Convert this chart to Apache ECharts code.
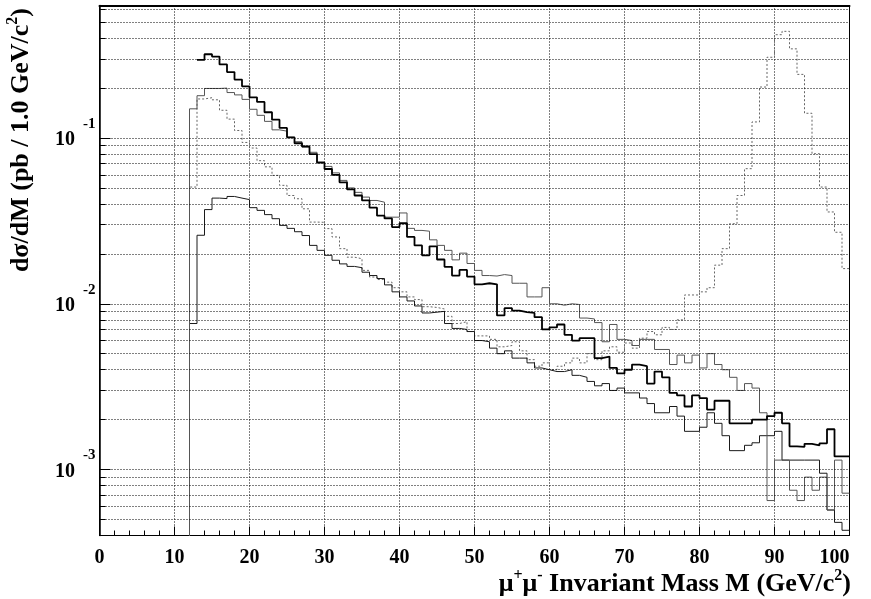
<!DOCTYPE html>
<html>
<head>
<meta charset="utf-8">
<script src="https://cdn.jsdelivr.net/npm/echarts@6/dist/echarts.min.js"></script>
<style>
  html, body { margin: 0; padding: 0; background: #fff; }
  #chart { width: 871px; height: 599px; }
</style>
</head>
<body>
<div id="chart"></div>
<script>
// dσ/dM of μ+μ- pairs in 1 GeV/c² bins; each array starts at its own first bin (GeV/c²)

// heavy solid histogram
const firstBinA = 13;
const valuesA = [
  0.296, 0.32, 0.31, 0.278, 0.25, 0.225, 0.205, 0.176, 0.165, 0.143,
  0.129, 0.115, 0.101, 0.093, 0.089, 0.080, 0.071, 0.065, 0.060, 0.054,
  0.049, 0.045, 0.042, 0.038, 0.034,
  0.0327, 0.029, 0.0306, 0.0253, 0.0225, 0.0196, 0.0222, 0.0185, 0.0167, 0.0148,
  0.0160, 0.0146, 0.0131, 0.0133, 0.0131, 0.0085, 0.0094, 0.0091, 0.0089, 0.0088,
  0.0083, 0.0070,
  0.0072, 0.0075, 0.0065, 0.0060, 0.0062, 0.0062, 0.0047, 0.0048, 0.0041, 0.0038,
  0.0040, 0.0043, 0.0042, 0.0033, 0.0039, 0.0036, 0.0029, 0.0028, 0.0024, 0.0028,
  0.0027, 0.0023, 0.0026, 0.0026, 0.0019, 0.0019, 0.0019, 0.0020, 0.0020, 0.0021,
  0.0022, 0.0019, 0.00138, 0.00137, 0.00143, 0.0014, 0.00144, 0.00175, 0.0012, 0.0012
];

// grey solid histogram
const firstBinB = 12;
const valuesB = [
  0.15, 0.18, 0.199, 0.199, 0.2, 0.188, 0.182, 0.171, 0.149, 0.137,
  0.126, 0.112, 0.110, 0.101, 0.095, 0.088, 0.082, 0.0716, 0.0674, 0.0616,
  0.0555, 0.050, 0.047, 0.044, 0.042, 0.041,
  0.0333, 0.0333, 0.0353, 0.0285, 0.0277, 0.0274, 0.0243, 0.0225, 0.021, 0.0184,
  0.0202, 0.0175, 0.0159, 0.0148, 0.0147, 0.0150, 0.0148, 0.0133, 0.0133, 0.011,
  0.011, 0.0125,
  0.0100, 0.0098, 0.0100, 0.0099, 0.0082, 0.0081, 0.0077, 0.0059, 0.0075, 0.0061,
  0.0060, 0.0056, 0.0061, 0.0061, 0.0053, 0.0053, 0.0043, 0.0049, 0.0044, 0.0049,
  0.0041, 0.0050, 0.0043, 0.0040, 0.0036, 0.0030, 0.0033, 0.0031, 0.0022, 0.00065,
  0.00114, 0.00114, 0.00075, 0.00065, 0.0009, 0.00075, 0.0009, 0.00057, 0.00114, 0.00072
];

// dotted histogram with the Z resonance
const firstBinC = 12;
const valuesC = [
  0.0506, 0.172, 0.175, 0.170, 0.147, 0.130, 0.111, 0.094, 0.087, 0.073,
  0.067, 0.0595, 0.0518, 0.045, 0.043, 0.0374, 0.0311, 0.031, 0.0284, 0.0253,
  0.0215, 0.0191, 0.0187, 0.0159,
  0.0145, 0.0140, 0.0135, 0.0125, 0.0118, 0.0110, 0.0106, 0.0096, 0.0095, 0.0093,
  0.0084, 0.0076, 0.0078, 0.0068, 0.0064, 0.0064, 0.0061, 0.0055, 0.0056, 0.0059,
  0.0052, 0.0046, 0.0042, 0.0044,
  0.0040, 0.0042, 0.0044, 0.0047, 0.0044, 0.0050, 0.0046, 0.0052, 0.0055, 0.0051,
  0.0058, 0.0054, 0.0062, 0.0068, 0.0065, 0.0072, 0.0070, 0.0080, 0.0113, 0.0113,
  0.0118, 0.0125, 0.0171, 0.0215, 0.0304, 0.045, 0.0653, 0.125, 0.203, 0.307,
  0.42, 0.44, 0.345, 0.242, 0.141, 0.0804, 0.0506, 0.0358, 0.027, 0.0163
];

// thin dark histogram
const firstBinD = 12;
const valuesD = [
  0.0076, 0.0259, 0.037, 0.0434, 0.0431, 0.0444, 0.0434, 0.0425, 0.038, 0.0366,
  0.0345, 0.0326, 0.0297, 0.0285, 0.0272, 0.0258, 0.0225, 0.021, 0.0196, 0.0183,
  0.0174, 0.0168,
  0.0165, 0.0155, 0.0148, 0.0142, 0.0130, 0.0118,
  0.0110, 0.0104, 0.0097, 0.0088, 0.0089, 0.0090, 0.0076, 0.0071, 0.0070, 0.0068,
  0.0060, 0.0059, 0.0054, 0.0050, 0.0052, 0.0047, 0.0047, 0.0044, 0.0041, 0.0040,
  0.0039, 0.0039, 0.0040, 0.0037, 0.0036, 0.0034, 0.0032, 0.0033, 0.0030, 0.0031,
  0.0029, 0.0029, 0.0027, 0.0025, 0.0022, 0.0022, 0.0024, 0.0021, 0.0017, 0.0017,
  0.0018, 0.0022, 0.0019, 0.0016, 0.0013, 0.0013, 0.0014, 0.00145, 0.0016, 0.0016,
  0.0017, 0.00114, 0.00114, 0.00114, 0.00114, 0.00114, 0.00095, 0.00057, 0.00048, 0.00043
];

// axis ranges and labelled decades
const massMin = 0, massMax = 100, massStep = 10;
const yMin = 0.0004, yMax = 0.63;
const yDecades = [-3, -2, -1];
const emptyBin = 1e-6; // an empty bin, below the visible range

// histogram -> step polyline (bin low edges plus the closing upper edge)
function histSteps(first, vals, riseFromEmpty) {
  const pts = [];
  if (riseFromEmpty) pts.push([first - 1, emptyBin]);
  vals.forEach((v, i) => pts.push([first + i, v]));
  pts.push([first + vals.length, vals[vals.length - 1]]);
  return pts;
}

// horizontal grid at 1..9 x 10^n and short minor ticks on the y axis
const gridValues = [];
for (let d = -4; d <= 0; d++) {
  for (let m = 1; m <= 9; m++) {
    const v = +(m * Math.pow(10, d)).toPrecision(3);
    if (v > yMin * 1.001 && v < yMax * 0.999) gridValues.push({ v, major: m === 1 });
  }
}
const gridStyle = { color: '#000', width: 1, type: [1, 2] };
const tickStyle = { color: '#000', width: 1, type: 'solid' };
const gridLines = gridValues.map(g => ({ yAxis: g.v, lineStyle: gridStyle }));
const minorTicks = gridValues.filter(g => !g.major).map(g => [
  { coord: [massMin, g.v], lineStyle: tickStyle },
  { coord: [massMin + 0.8, g.v] }
]);

const serif = '"Liberation Serif", "Times New Roman", serif';
const titleMain = { fontFamily: serif, fontWeight: 'bold', fontSize: 26, color: '#000' };
const titleSup = { fontFamily: serif, fontWeight: 'bold', fontSize: 16,
                   verticalAlign: 'top', padding: [0, 0, 17, 0], color: '#000' };

const chart = echarts.init(document.getElementById('chart'), null, { renderer: 'canvas' });

chart.setOption({
  animation: false,
  backgroundColor: '#fff',
  grid: {
    left: 99.5, right: 21.5, top: 5.5, bottom: 63.5,
    show: true, borderColor: '#000', borderWidth: 1,
    containLabel: false, outerBoundsMode: 'none'
  },
  xAxis: [
    {
      type: 'value', min: massMin, max: massMax, interval: massStep,
      axisLine: { show: true, onZero: false, lineStyle: { color: '#000', width: 1 } },
      axisTick: { show: true, inside: true, length: 9, lineStyle: { color: '#000', width: 1 } },
      minorTick: { show: true, splitNumber: 5, length: 5, lineStyle: { color: '#000', width: 1 } },
      splitLine: { show: true, lineStyle: gridStyle },
      axisLabel: {
        show: true, margin: 12, color: '#000', fontFamily: serif, fontWeight: 'bold', fontSize: 20,
        alignMaxLabel: 'right'
      }
    },
    {
      // heavier top frame
      type: 'value', position: 'top', min: massMin, max: massMax,
      axisLine: { show: true, onZero: false, lineStyle: { color: '#000', width: 2 } },
      axisTick: { show: false }, axisLabel: { show: false }, splitLine: { show: false }
    }
  ],
  yAxis: {
    type: 'log', logBase: 10, min: yMin, max: yMax,
    axisLine: { show: true, lineStyle: { color: '#000', width: 1.5 } },
    axisTick: { show: true, inside: true, length: 11, lineStyle: { color: '#000', width: 1 } },
    splitLine: { show: false },
    minorTick: { show: false },
    axisLabel: {
      show: true, margin: 4, showMinLabel: false, showMaxLabel: false,
      formatter: v => {
        const e = Math.round(Math.log10(v));
        if (!yDecades.includes(e) || Math.abs(Math.log10(v) - e) > 1e-6) return '';
        return '{b|10}{s|' + e + '}';
      },
      rich: {
        b: { fontFamily: serif, fontWeight: 'bold', fontSize: 20,
             padding: [4, 0, 0, 0], color: '#000' },
        s: { fontFamily: serif, fontWeight: 'bold', fontSize: 15,
             verticalAlign: 'top', padding: [0, 0, 28, 8], color: '#000' }
      }
    }
  },
  graphic: [
    {
      type: 'text', x: 851, y: 584, silent: true,
      style: {
        text: '{n|μ}{p|+}{n|μ}{p|-}{n| Invariant Mass M (GeV/c}{p|2}{n|)}',
        align: 'right', verticalAlign: 'middle',
        rich: { n: titleMain, p: titleSup }
      }
    },
    {
      type: 'text', x: 21, y: 8, rotation: Math.PI / 2, silent: true,
      style: {
        text: '{n|dσ/dM (pb / 1.0 GeV/c}{p|2}{n|)}',
        align: 'right', verticalAlign: 'middle',
        rich: { n: titleMain, p: titleSup }
      }
    }
  ],
  series: [
    {
      // reference grid and y-axis minor ticks
      type: 'line', data: [], z: 1, silent: true,
      markLine: {
        silent: true, symbol: ['none', 'none'], label: { show: false },
        precision: 8, animation: false,
        data: gridLines.concat(minorTicks)
      }
    },
    {
      name: 'C', type: 'line', step: 'end', showSymbol: false, z: 3,
      data: histSteps(firstBinC, valuesC, true),
      lineStyle: { color: '#666', width: 1, type: [2, 2] }
    },
    {
      name: 'D', type: 'line', step: 'end', showSymbol: false, z: 4,
      data: histSteps(firstBinD, valuesD, true),
      lineStyle: { color: '#1a1a1a', width: 1 }
    },
    {
      name: 'B', type: 'line', step: 'end', showSymbol: false, z: 4,
      data: histSteps(firstBinB, valuesB, true),
      lineStyle: { color: '#555', width: 1 }
    },
    {
      name: 'A', type: 'line', step: 'end', showSymbol: false, z: 5,
      data: histSteps(firstBinA, valuesA, false),
      lineStyle: { color: '#000', width: 1.8 }
    }
  ]
});
</script>
</body>
</html>
